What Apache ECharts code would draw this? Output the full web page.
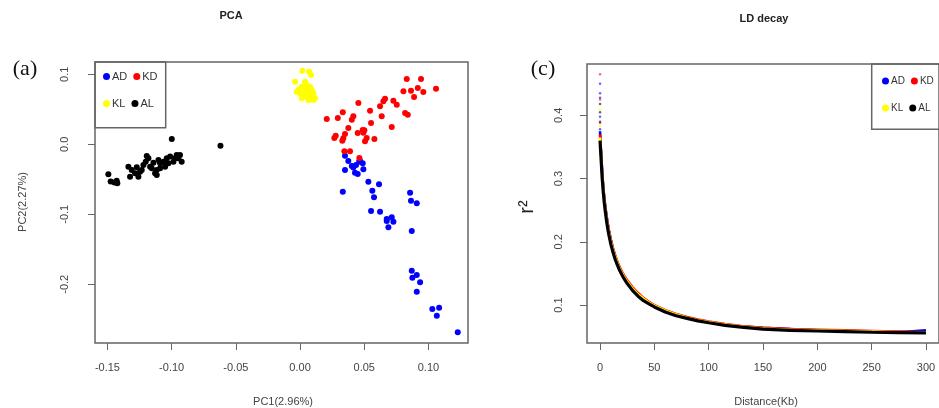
<!DOCTYPE html>
<html>
<head>
<meta charset="utf-8">
<script src="https://cdn.jsdelivr.net/npm/echarts@6/dist/echarts.min.js"></script>
<style>html,body{margin:0;padding:0;background:#fff}#c{width:939px;height:408px}</style>
</head>
<body>
<div id="c"></div>
<script>
// ---------- PCA data (PC1, PC2) ----------
var pcaAD = [[0.0350,-0.0163],[0.0376,-0.0239],[0.0403,-0.0310],[0.0436,-0.0296],[0.0467,-0.0234],[0.0488,-0.0271],[0.0350,-0.0367],[0.0428,-0.0406],[0.0449,-0.0424],[0.0493,-0.0357],[0.0532,-0.0534],[0.0615,-0.0571],[0.0333,-0.0677],[0.0563,-0.0663],[0.0576,-0.0757],[0.0857,-0.0691],[0.0864,-0.0806],[0.0909,-0.0843],[0.0553,-0.0953],[0.0623,-0.0963],[0.0675,-0.1067],[0.0714,-0.1043],[0.0688,-0.1186],[0.0727,-0.1106],[0.0675,-0.1096],[0.0870,-0.1239],[0.0870,-0.1806],[0.0909,-0.1867],[0.0875,-0.1906],[0.0935,-0.1971],[0.0909,-0.2106],[0.1030,-0.2353],[0.1083,-0.2334],[0.1065,-0.2449],[0.1228,-0.2686],[0.0460,-0.0250],[0.0415,-0.0330]];
var pcaKD = [[0.0831,0.0933],[0.0942,0.0933],[0.0805,0.0757],[0.0864,0.0766],[0.0917,0.0804],[0.0960,0.0747],[0.0888,0.0676],[0.1059,0.0794],[0.0454,0.0590],[0.0662,0.0651],[0.0649,0.0614],[0.0727,0.0623],[0.0753,0.0566],[0.0623,0.0543],[0.0545,0.0480],[0.0818,0.0447],[0.0839,0.0423],[0.0415,0.0400],[0.0403,0.0351],[0.0333,0.0457],[0.0294,0.0376],[0.0208,0.0361],[0.0636,0.0400],[0.0553,0.0304],[0.0714,0.0247],[0.0376,0.0233],[0.0501,0.0200],[0.0449,0.0161],[0.0350,0.0147],[0.0278,0.0123],[0.0267,0.0090],[0.0329,0.0051],[0.0519,0.0090],[0.0579,0.0076],[0.0506,0.0043],[0.0345,-0.0100],[0.0389,-0.0100],[0.0462,-0.0196],[0.0488,0.0204],[0.0493,0.0166],[0.0337,0.0086]];
var pcaKL = [[0.0018,0.1052],[0.0070,0.1038],[0.0086,0.0990],[-0.0039,0.0895],[0.0039,0.0895],[-0.0026,0.0752],[0.0013,0.0823],[0.0039,0.0776],[0.0052,0.0728],[0.0065,0.0681],[0.0078,0.0752],[0.0091,0.0704],[0.0104,0.0633],[0.0117,0.0657],[0.0026,0.0681],[0.0000,0.0728],[0.0078,0.0823],[0.0052,0.0847],[0.0091,0.0776],[0.0013,0.0657],[0.0065,0.0633],[0.0104,0.0728],[0.0039,0.0704],[-0.0013,0.0776]];
var pcaAL = [[-0.1493,-0.0428],[-0.1475,-0.0533],[-0.1446,-0.0547],[-0.1428,-0.0519],[-0.1423,-0.0557],[-0.1324,-0.0462],[-0.1337,-0.0319],[-0.1311,-0.0367],[-0.1272,-0.0329],[-0.1259,-0.0462],[-0.1246,-0.0391],[-0.1220,-0.0296],[-0.1202,-0.0248],[-0.1181,-0.0200],[-0.1194,-0.0167],[-0.1168,-0.0319],[-0.1142,-0.0262],[-0.1129,-0.0415],[-0.1116,-0.0367],[-0.1103,-0.0224],[-0.1090,-0.0272],[-0.1064,-0.0248],[-0.1051,-0.0319],[-0.1038,-0.0200],[-0.1025,-0.0272],[-0.1012,-0.0176],[-0.0986,-0.0248],[-0.0974,-0.0200],[-0.0961,-0.0153],[-0.0948,-0.0200],[-0.0935,-0.0153],[-0.0922,-0.0248],[-0.0999,0.0076],[-0.0620,-0.0020],[-0.1116,-0.0438],[-0.1155,-0.0343],[-0.1233,-0.0367],[-0.1285,-0.0415],[-0.1090,-0.0343],[-0.1051,-0.0272]];

// ---------- LD decay data ----------
var ldDist = [0,0.5,1,1.5,2,3,4,5,6,7,8,10,12,14,16,18,21,25,30,35,40,45,50,60,70,80,90,100,115,130,150,175,200,225,250,275,300];
var ldAD = [0.375,0.355,0.34,0.325,0.31,0.286,0.268,0.254,0.241,0.23,0.219,0.203,0.189,0.177,0.167,0.159,0.148,0.137,0.126,0.117,0.110,0.104,0.099,0.091,0.085,0.080,0.076,0.073,0.069,0.066,0.064,0.062,0.060,0.059,0.058,0.057,0.060];
var ldKD = [0.37,0.353,0.338,0.323,0.308,0.285,0.267,0.253,0.240,0.229,0.219,0.203,0.189,0.178,0.168,0.160,0.150,0.139,0.128,0.119,0.111,0.105,0.100,0.092,0.086,0.081,0.077,0.074,0.070,0.067,0.064,0.062,0.061,0.060,0.059,0.058,0.057];
var ldKL = [0.365,0.349,0.334,0.319,0.304,0.282,0.264,0.250,0.237,0.226,0.216,0.200,0.187,0.176,0.166,0.158,0.148,0.137,0.126,0.117,0.110,0.104,0.099,0.091,0.085,0.080,0.076,0.073,0.069,0.066,0.063,0.061,0.060,0.059,0.058,0.057,0.057];
var ldAL = [0.36,0.345,0.33,0.315,0.30,0.278,0.26,0.246,0.233,0.222,0.212,0.196,0.183,0.172,0.163,0.155,0.145,0.134,0.123,0.114,0.107,0.102,0.097,0.089,0.083,0.079,0.075,0.072,0.068,0.065,0.062,0.060,0.059,0.058,0.057,0.0565,0.056];
var ldTopAD = [[0,0.45],[0,0.435],[0,0.428],[0,0.398],[0,0.378]];
var ldTopKD = [[0,0.465],[0,0.425],[0,0.388]];
var ldTopKL = [[0,0.41],[0,0.383]];
var ldTopAL = [[0,0.418],[0,0.405],[0,0.39]];

var pcaXTicks = [-0.15,-0.10,-0.05,0.00,0.05,0.10];
var pcaYTicks = [-0.2,-0.1,0.0,0.1];
var ldXTicks = [0,50,100,150,200,250,300];
var ldYTicks = [0.1,0.2,0.3,0.4];

var colors = {AD:'#0000ff', KD:'#ff0000', KL:'#ffff00', AL:'#000000'};
var ldWidth = {AD:2.6, KD:2.6, KL:2.6, AL:3.2};

function pairs(xs, ys){ return xs.map(function(x,i){ return [x, ys[i]]; }); }

var axisCommon = {
  type:'value', splitLine:{show:false}, axisLine:{show:false, onZero:false},
  axisTick:{show:true, length:7, lineStyle:{color:'#666', width:1}},
  axisLabel:{color:'#444', fontSize:11, fontFamily:'Liberation Sans'}
};
function xAx(idx, min, max, ticks, fmt){
  return Object.assign({}, axisCommon, {gridIndex:idx, min:min, max:max, position:'bottom',
    axisTick:Object.assign({}, axisCommon.axisTick, {customValues:ticks}),
    axisLabel:Object.assign({}, axisCommon.axisLabel, {customValues:ticks, margin:19, formatter:fmt})});
}
function yAx(idx, min, max, ticks, fmt, margin){
  return Object.assign({}, axisCommon, {gridIndex:idx, min:min, max:max, position:'left',
    axisTick:Object.assign({}, axisCommon.axisTick, {customValues:ticks}),
    axisLabel:Object.assign({}, axisCommon.axisLabel, {customValues:ticks, margin:margin, rotate:90, formatter:fmt})});
}

var series = [];
[['AD',pcaAD],['KD',pcaKD],['KL',pcaKL],['AL',pcaAL]].forEach(function(p){
  series.push({name:p[0], type:'scatter', xAxisIndex:0, yAxisIndex:0, data:p[1], symbolSize:6,
    itemStyle:{color:colors[p[0]], opacity:1}, silent:true});
});
[['AD',ldAD,ldTopAD],['KD',ldKD,ldTopKD],['KL',ldKL,ldTopKL],['AL',ldAL,ldTopAL]].forEach(function(p){
  series.push({name:p[0], type:'line', xAxisIndex:1, yAxisIndex:1, data:pairs(ldDist,p[1]), showSymbol:false,
    lineStyle:{color:colors[p[0]], width:ldWidth[p[0]]}, itemStyle:{color:colors[p[0]]}, silent:true, z:2});
  series.push({name:p[0], type:'scatter', xAxisIndex:1, yAxisIndex:1, data:p[2], symbolSize:2.5,
    itemStyle:{color:colors[p[0]], opacity:0.6}, silent:true, z:2});
});

function legend(left, top, data, fs){
  return {left:left, top:top, data:data, icon:'circle', itemWidth:7, itemHeight:7, itemGap:6, padding:0,
    selectedMode:false, textStyle:{fontSize:fs, color:'#333', fontFamily:'Liberation Sans', padding:[2,0,0,-3]}};
}

var option = {
  animation:false,
  backgroundColor:'#fff',
  grid:[
    {left:95, top:62, width:373, height:281, show:true, borderColor:'#666', borderWidth:1.5, backgroundColor:'transparent'},
    {left:587, top:64, width:360, height:279, show:true, borderColor:'#666', borderWidth:1.5, backgroundColor:'transparent'}
  ],
  xAxis:[
    xAx(0, -0.1597, 0.1308, pcaXTicks, function(v){return v.toFixed(2);}),
    xAx(1, -12, 312, ldXTicks, function(v){return String(Math.round(v));})
  ],
  yAxis:[
    yAx(0, -0.2839, 0.1176, pcaYTicks, function(v){return v.toFixed(1);}, 25),
    yAx(1, 0.04, 0.4813, ldYTicks, function(v){return v.toFixed(1);}, 23)
  ],
  legend:[
    legend(103, 71, ['AD','KD'], 11),
    legend(103, 98, ['KL','AL'], 11),
    legend(882, 76, ['AD','KD'], 10),
    legend(882, 103, ['KL','AL'], 10)
  ],
  series:series,
  graphic:[
    {type:'rect', shape:{x:95, y:62, width:70.7, height:65.7}, style:{fill:'transparent', stroke:'#666', lineWidth:1.5}, z:10},
    {type:'rect', shape:{x:871.7, y:64, width:90, height:65.3}, style:{fill:'transparent', stroke:'#666', lineWidth:1.5}, z:10},
    {type:'text', x:231, y:16, style:{text:'PCA', font:'bold 11px "Liberation Sans"', fill:'#222', textAlign:'center', textVerticalAlign:'middle'}},
    {type:'text', x:764, y:19, style:{text:'LD decay', font:'bold 11px "Liberation Sans"', fill:'#222', textAlign:'center', textVerticalAlign:'middle'}},
    {type:'text', x:25, y:69, style:{text:'(a)', font:'22px "Liberation Serif"', fill:'#111', textAlign:'center', textVerticalAlign:'middle'}},
    {type:'text', x:543, y:69, style:{text:'(c)', font:'22px "Liberation Serif"', fill:'#111', textAlign:'center', textVerticalAlign:'middle'}},
    {type:'text', x:283, y:402, style:{text:'PC1(2.96%)', font:'11px "Liberation Sans"', fill:'#444', textAlign:'center', textVerticalAlign:'middle'}},
    {type:'text', x:766, y:402, style:{text:'Distance(Kb)', font:'11px "Liberation Sans"', fill:'#444', textAlign:'center', textVerticalAlign:'middle'}},
    {type:'text', x:23, y:202, rotation:Math.PI/2, style:{text:'PC2(2.27%)', font:'11px "Liberation Sans"', fill:'#444', textAlign:'center', textVerticalAlign:'middle'}},
    {type:'text', x:527, y:207, rotation:Math.PI/2, style:{text:'r²', font:'20px "Liberation Sans"', fill:'#222', textAlign:'center', textVerticalAlign:'middle'}}
  ]
};
var chart = echarts.init(document.getElementById('c'), null, {renderer:'canvas'});
chart.setOption(option);
</script>
</body>
</html>
